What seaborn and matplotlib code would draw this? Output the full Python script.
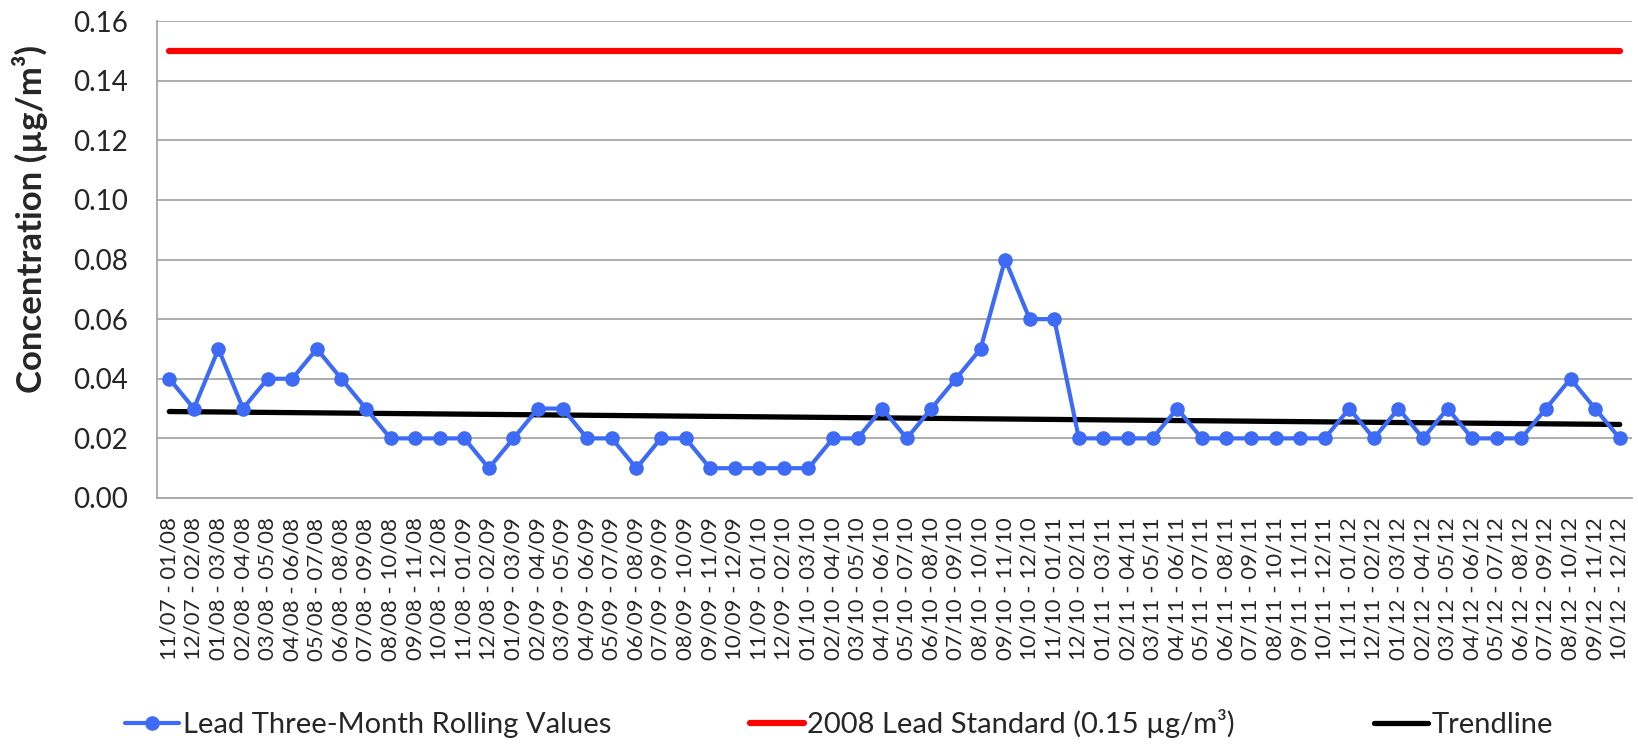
import numpy as np
import pandas as pd
import matplotlib
matplotlib.use("Agg")
import matplotlib.pyplot as plt
import seaborn as sns

# --- data -------------------------------------------------------------
start_months = [
    "11/07", "12/07", "01/08", "02/08", "03/08", "04/08", "05/08", "06/08", "07/08", "08/08",
    "09/08", "10/08", "11/08", "12/08", "01/09", "02/09", "03/09", "04/09", "05/09", "06/09",
    "07/09", "08/09", "09/09", "10/09", "11/09", "12/09", "01/10", "02/10", "03/10", "04/10",
    "05/10", "06/10", "07/10", "08/10", "09/10", "10/10", "11/10", "12/10", "01/11", "02/11",
    "03/11", "04/11", "05/11", "06/11", "07/11", "08/11", "09/11", "10/11", "11/11", "12/11",
    "01/12", "02/12", "03/12", "04/12", "05/12", "06/12", "07/12", "08/12", "09/12", "10/12",
]
end_months = [
    "01/08", "02/08", "03/08", "04/08", "05/08", "06/08", "07/08", "08/08", "09/08", "10/08",
    "11/08", "12/08", "01/09", "02/09", "03/09", "04/09", "05/09", "06/09", "07/09", "08/09",
    "09/09", "10/09", "11/09", "12/09", "01/10", "02/10", "03/10", "04/10", "05/10", "06/10",
    "07/10", "08/10", "09/10", "10/10", "11/10", "12/10", "01/11", "02/11", "03/11", "04/11",
    "05/11", "06/11", "07/11", "08/11", "09/11", "10/11", "11/11", "12/11", "01/12", "02/12",
    "03/12", "04/12", "05/12", "06/12", "07/12", "08/12", "09/12", "10/12", "11/12", "12/12",
]
lead_values = [
    0.04, 0.03, 0.05, 0.03, 0.04, 0.04, 0.05, 0.04, 0.03, 0.02,
    0.02, 0.02, 0.02, 0.01, 0.02, 0.03, 0.03, 0.02, 0.02, 0.01,
    0.02, 0.02, 0.01, 0.01, 0.01, 0.01, 0.01, 0.02, 0.02, 0.03,
    0.02, 0.03, 0.04, 0.05, 0.08, 0.06, 0.06, 0.02, 0.02, 0.02,
    0.02, 0.03, 0.02, 0.02, 0.02, 0.02, 0.02, 0.02, 0.03, 0.02,
    0.03, 0.02, 0.03, 0.02, 0.02, 0.02, 0.03, 0.04, 0.03, 0.02,
]
lead_standard = 0.15

labels = [f"{s} - {e}" for s, e in zip(start_months, end_months)]
idx = np.arange(len(labels))

# linear trendline (like Excel's)
slope, intercept = np.polyfit(idx, lead_values, 1)
trend = slope * idx + intercept

df = pd.DataFrame({
    "i": idx,
    "lead": lead_values,
    "standard": [lead_standard] * len(idx),
    "trend": trend,
})

# --- plot -------------------------------------------------------------
sns.set_style("white")
plt.rcParams["font.family"] = ["Lato", "DejaVu Sans"]

W, H = 1638, 749
fig = plt.figure(figsize=(W / 100, H / 100), dpi=100)
ax = fig.add_axes([157 / W, 1 - 498 / H, (1632 - 157) / W, (498 - 21) / H])

sns.lineplot(data=df, x="i", y="standard", ax=ax, color="#FF0000", linewidth=4.5,
             label="2008 Lead Standard (0.15 µg/m³)", solid_capstyle="round")
sns.lineplot(data=df, x="i", y="trend", ax=ax, color="black", linewidth=3.8,
             label="Trendline", solid_capstyle="round")
sns.lineplot(data=df, x="i", y="lead", ax=ax, color="#3D6BF5", linewidth=3,
             marker="o", markersize=10.5, markeredgewidth=0,
             label="Lead Three-Month Rolling Values")

ax.set_xlim(-0.5, len(idx) - 0.5)
ax.set_ylim(0, 0.16)
yt = np.arange(0, 0.161, 0.02)
ax.set_yticks(yt)
ax.set_yticklabels([f"{v:.2f}" for v in yt], fontsize=20)
ax.yaxis.grid(True, color="#A6A6A6", linewidth=1.3)
ax.set_axisbelow(True)

# category boundaries as tick marks, labels at category centres
ax.set_xticks(np.arange(-0.5, len(idx), 1.0))
ax.set_xticklabels([])
ax.set_xticks(idx, minor=True)
ax.set_xticklabels(labels, minor=True, rotation=90, fontsize=16)
ax.tick_params(axis="x", which="major", length=8, width=1.2, color="#A6A6A6", direction="inout")
ax.tick_params(axis="x", which="minor", length=0, pad=14)
ax.tick_params(axis="y", length=0, pad=21)

for side in ["top", "right"]:
    ax.spines[side].set_visible(False)
for side in ["left", "bottom"]:
    ax.spines[side].set_color("#A6A6A6")
    ax.spines[side].set_linewidth(1.3)

ax.set_xlabel("")
ax.set_ylabel("Concentration (µg/m³)", fontsize=25, fontweight="bold")
ax.yaxis.set_label_coords(-0.074, 0.585)

# legend along the bottom
handles, leg_labels = ax.get_legend_handles_labels()
order = [2, 0, 1]
ax.get_legend().remove()
fig.legend([handles[k] for k in order], [leg_labels[k] for k in order],
           loc="lower left", bbox_to_anchor=(125 / W, 0.015),
           ncol=3, frameon=False, fontsize=21, borderpad=0, borderaxespad=0,
           handlelength=1.86, handletextpad=0.12, columnspacing=4.75)

fig.savefig("out.png", dpi=100)
